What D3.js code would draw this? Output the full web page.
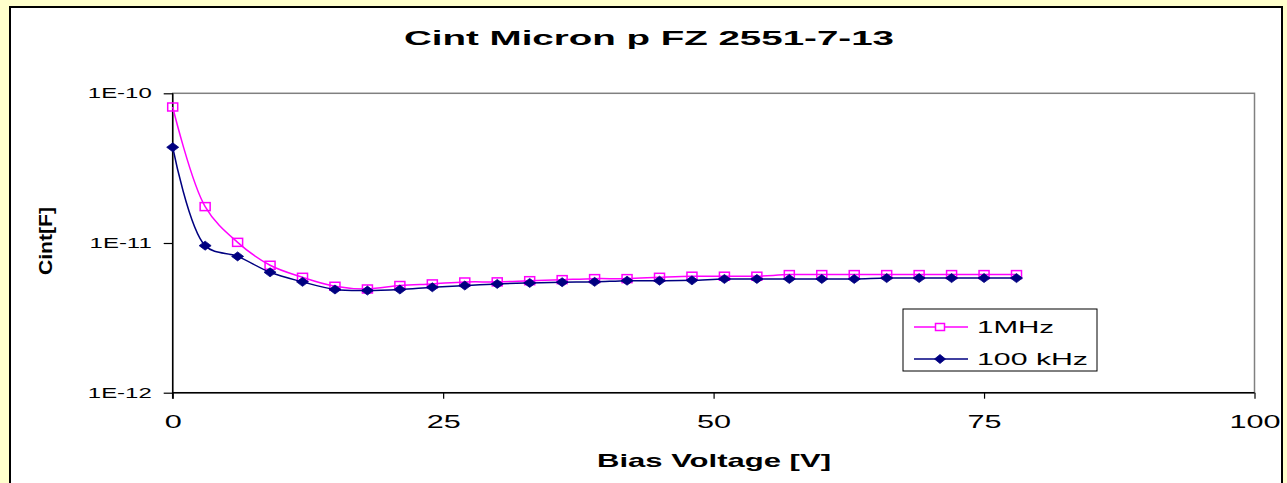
<!DOCTYPE html>
<html>
<head>
<meta charset="utf-8">
<script src="https://cdn.jsdelivr.net/npm/d3@7/dist/d3.min.js"></script>
<style>
  html, body { margin: 0; padding: 0; background: #FFFFCC; }
  svg { display: block; font-family: "Liberation Sans", Arial, sans-serif; }
</style>
</head>
<body>
<svg id="chart" width="1287" height="483"></svg>
<script>
// Bias voltage steps [V]
const voltages = [0, 3, 6, 9, 12, 15, 18, 21, 24, 27, 30, 33, 36, 39, 42, 45, 48, 51, 54, 57, 60, 63, 66, 69, 72, 75, 78];

// Interstrip capacitance [F] at 1 MHz
const cint1MHz = [8.1e-11, 1.75e-11, 1.01e-11, 7.1e-12, 5.9e-12, 5.14e-12, 4.93e-12, 5.2e-12, 5.33e-12,
  5.49e-12, 5.5e-12, 5.6e-12, 5.69e-12, 5.78e-12, 5.78e-12, 5.9e-12, 6.0e-12, 6.0e-12, 6.0e-12,
  6.15e-12, 6.15e-12, 6.15e-12, 6.15e-12, 6.15e-12, 6.15e-12, 6.15e-12, 6.15e-12];

// Interstrip capacitance [F] at 100 kHz
const cint100kHz = [4.36e-11, 9.6e-12, 8.14e-12, 6.37e-12, 5.5e-12, 4.89e-12, 4.81e-12, 4.89e-12, 5.06e-12,
  5.2e-12, 5.33e-12, 5.41e-12, 5.47e-12, 5.5e-12, 5.6e-12, 5.6e-12, 5.63e-12, 5.75e-12, 5.75e-12,
  5.75e-12, 5.75e-12, 5.75e-12, 5.83e-12, 5.83e-12, 5.83e-12, 5.83e-12, 5.83e-12];

const xTicks = [0, 25, 50, 75, 100];
const yTicks = [1e-12, 1e-11, 1e-10];
const yTickLabels = ["1E-12", "1E-11", "1E-10"];
const seriesNames = ["1MHz", "100 kHz"];

const svg = d3.select("#chart");

// Glyphs in this chart are drawn horizontally widened
function widen(sel, factor) {
  sel.each(function () {
    const w = this.getComputedTextLength();
    d3.select(this).attr("textLength", w * factor).attr("lengthAdjust", "spacingAndGlyphs");
  });
}

// Chart area
svg.append("rect")
  .attr("x", 10).attr("y", 7).attr("width", 1272).attr("height", 500)
  .attr("fill", "#fff").attr("stroke", "#000").attr("stroke-width", 2);

const x = d3.scaleLinear().domain([0, 100]).range([172.7, 1254.5]);
const y = d3.scaleLog().domain([1e-12, 1e-10]).range([392.7, 93.3]);

// Plot area frame (gray)
svg.append("rect")
  .attr("x", x(0)).attr("y", y(1e-10))
  .attr("width", x(100) - x(0)).attr("height", y(1e-12) - y(1e-10))
  .attr("fill", "#fff").attr("stroke", "#808080").attr("stroke-width", 1.5);

// Title
svg.append("text")
  .attr("x", 649).attr("y", 45).attr("text-anchor", "middle")
  .attr("font-size", 21).attr("font-weight", "bold")
  .attr("textLength", 490).attr("lengthAdjust", "spacingAndGlyphs")
  .text("Cint Micron p FZ 2551-7-13");

// X axis
const xAxis = svg.append("g")
  .attr("transform", `translate(0,${y(1e-12)})`)
  .call(d3.axisBottom(x).tickValues(xTicks).tickSize(6).tickPadding(17).tickFormat(d3.format("d")));
xAxis.select(".domain").attr("stroke", "#000").attr("stroke-width", 1.5).attr("d", `M${x(0)},0H${x(100)}`);
xAxis.selectAll(".tick line").attr("stroke", "#000").attr("stroke-width", 1.2);
xAxis.selectAll(".tick text").attr("font-size", 18).attr("fill", "#000")
  .attr("font-family", "Liberation Sans, Arial, sans-serif").call(widen, 1.7);

// Y axis
const yAxis = svg.append("g")
  .attr("transform", `translate(${x(0)},0)`)
  .call(d3.axisLeft(y).tickValues(yTicks).tickSize(9).tickPadding(12)
    .tickFormat((d, i) => yTickLabels[i]));
yAxis.select(".domain").attr("stroke", "#000").attr("stroke-width", 1.5)
  .attr("d", `M0,${y(1e-10)}V${y(1e-12) + 6}`);
yAxis.selectAll(".tick line").attr("stroke", "#000").attr("stroke-width", 1.2);
yAxis.selectAll(".tick text").attr("font-size", 14.5).attr("fill", "#000")
  .attr("font-family", "Liberation Sans, Arial, sans-serif").call(widen, 1.65);

// Axis titles
svg.append("text")
  .attr("x", 714).attr("y", 467).attr("text-anchor", "middle")
  .attr("font-size", 19).attr("font-weight", "bold")
  .attr("textLength", 234).attr("lengthAdjust", "spacingAndGlyphs")
  .text("Bias Voltage [V]");

svg.append("text")
  .attr("transform", "translate(52,241) rotate(-90)")
  .attr("text-anchor", "middle")
  .attr("font-size", 19).attr("font-weight", "bold")
  .attr("textLength", 68).attr("lengthAdjust", "spacingAndGlyphs")
  .text("Cint[F]");

// Series
const line = d3.line().curve(d3.curveCatmullRom.alpha(0.5));

const magenta = "#FF00FF", navy = "#000080";
const squareW = 10, squareH = 8;
const diamondW = 12, diamondH = 9;

function diamondPath(cx, cy, w, h) {
  return `M${cx},${cy - h / 2}L${cx + w / 2},${cy}L${cx},${cy + h / 2}L${cx - w / 2},${cy}Z`;
}

const pts1 = voltages.map((v, i) => [x(v), y(cint1MHz[i])]);
const pts2 = voltages.map((v, i) => [x(v), y(cint100kHz[i])]);

svg.append("path").attr("d", line(pts1)).attr("fill", "none")
  .attr("stroke", magenta).attr("stroke-width", 1.5);
svg.append("g").selectAll("rect").data(pts1).join("rect")
  .attr("x", d => d[0] - squareW / 2).attr("y", d => d[1] - squareH / 2)
  .attr("width", squareW).attr("height", squareH)
  .attr("fill", "none").attr("stroke", magenta).attr("stroke-width", 1.5);

svg.append("path").attr("d", line(pts2)).attr("fill", "none")
  .attr("stroke", navy).attr("stroke-width", 1.5);
svg.append("g").selectAll("path").data(pts2).join("path")
  .attr("d", d => diamondPath(d[0], d[1], diamondW, diamondH))
  .attr("fill", navy).attr("stroke", navy).attr("stroke-width", 0.8);

// Legend
const legend = svg.append("g");
legend.append("rect")
  .attr("x", 903).attr("y", 309).attr("width", 194).attr("height", 62)
  .attr("fill", "#fff").attr("stroke", "#000").attr("stroke-width", 1);

const legendRows = [
  { name: seriesNames[0], color: magenta, cy: 327, base: 333, width: 77 },
  { name: seriesNames[1], color: navy, cy: 359, base: 365, width: 111 }
];
legendRows.forEach((r, i) => {
  legend.append("line").attr("x1", 914).attr("x2", 968).attr("y1", r.cy).attr("y2", r.cy)
    .attr("stroke", r.color).attr("stroke-width", 1.5);
  if (i === 0) {
    legend.append("rect").attr("x", 940 - 4.5).attr("y", r.cy - 3.5).attr("width", 9).attr("height", 7)
      .attr("fill", "#fff").attr("stroke", r.color).attr("stroke-width", 1.5);
  } else {
    legend.append("path").attr("d", diamondPath(940, r.cy, 11, 9)).attr("fill", r.color)
      .attr("stroke", r.color).attr("stroke-width", 0.8);
  }
  legend.append("text").attr("x", 977).attr("y", r.base)
    .attr("font-size", 16.5).attr("textLength", r.width).attr("lengthAdjust", "spacingAndGlyphs")
    .text(r.name);
});
</script>
</body>
</html>
